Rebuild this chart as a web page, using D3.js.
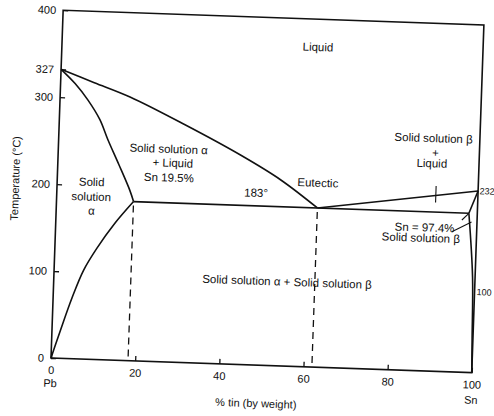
<!DOCTYPE html>
<html>
<head>
<meta charset="utf-8">
<script src="https://d3js.org/d3.v7.min.js"></script>
<style>
body { margin: 0; background: #fff; }
text { font-family: "Liberation Sans", Arial, sans-serif; font-size: 11px; fill: #111; }
text.region { font-size: 11.5px; }
text.side { font-size: 9px; }
</style>
</head>
<body>
<div id="chart"></div>
<script>

// phase boundaries of the Pb-Sn diagram, [% Sn, temperature °C]
var liquidusPb   = [[0,332],[8,318],[16.6,303],[30,273],[43.2,241],[53,214],[62,183]];
var solidusAlpha = [[0,332],[3.5,316],[6.6,298],[9.6,276],[11.7,253],[14.5,225],[17.3,196],[18.3,183]];
var solvusAlpha  = [[18.3,183],[14,157],[10,128],[7,102],[4.5,70],[2,32],[0.8,13],[0,0]];
var eutectic     = [[18.3,183],[98,183]];
var liquidusSn   = [[62,183],[100,209]];
var solidusBeta  = [[98,183],[100,209]];
var solvusBeta   = [[98,183],[99.4,110],[99.8,40],[100,0]];
var dashedAt     = [18.3, 62];

// ticks
var xTicks = [0, 20, 40, 60, 80, 100];
var yTicks = [0, 100, 200, 300, 332, 400];
var yTickLabels = ["0", "100", "200", "300", "327", "400"];

var width = 494, height = 416;
var W = 421, H = 348;

var svg = d3.select("#chart")
  .append("svg")
    .attr("width", width)
    .attr("height", height);

var x = d3.scaleLinear().domain([0, 100]).range([0, W]);
var y = d3.scaleLinear().domain([0, 400]).range([H, 0]);

// the scan is tilted by about 2 degrees
var g = svg.append("g")
  .attr("transform", "translate(51,358) rotate(2) translate(0," + (-H) + ")");

// frame
g.append("path")
  .attr("d", "M" + x(0) + "," + y(0) + "V" + y(400) + "H" + x(100) + "V" + y(0) + "Z")
  .attr("fill", "none")
  .attr("stroke", "#111")
  .attr("stroke-width", 1.6);

// axes (ticks pointing inside)
var xAxis = g.append("g")
  .attr("transform", "translate(0," + H + ")")
  .call(d3.axisBottom(x).tickValues(xTicks).tickSizeInner(-5).tickSizeOuter(0).tickPadding(8));
var yAxis = g.append("g")
  .call(d3.axisLeft(y).tickValues(yTicks).tickSizeInner(-5).tickSizeOuter(0).tickPadding(7)
    .tickFormat(function(d, i) { return yTickLabels[i]; }));
[xAxis, yAxis].forEach(function(a) {
  a.select(".domain").remove();
  a.selectAll("line").attr("stroke", "#111").attr("stroke-width", 1.3);
  a.selectAll("text").attr("fill", "#111").attr("font-family", null).attr("font-size", null);
});

// boundaries
var line = d3.line()
  .x(function(d) { return x(d[0]); })
  .y(function(d) { return y(d[1]); })
  .curve(d3.curveCatmullRom);

[liquidusPb, solidusAlpha, solvusAlpha, eutectic, liquidusSn, solidusBeta, solvusBeta].forEach(function(b) {
  g.append("path")
    .attr("d", line(b))
    .attr("fill", "none")
    .attr("stroke", "#111")
    .attr("stroke-width", 1.6);
});

g.selectAll(".dash")
  .data(dashedAt)
  .enter().append("line")
    .attr("x1", function(d) { return x(d); })
    .attr("x2", function(d) { return x(d); })
    .attr("y1", y(183) + 4)
    .attr("y2", y(0))
    .attr("stroke", "#111")
    .attr("stroke-width", 1.3)
    .attr("stroke-dasharray", "7,5");

// small pointers
var pointers = [[[90,194],[90,213]], [[96.4,175],[98,183]], [[94.1,161],[98.7,173]]];
pointers.forEach(function(p) {
  g.append("path").attr("d", d3.line().x(function(d){return x(d[0]);}).y(function(d){return y(d[1]);})(p))
    .attr("stroke", "#111").attr("stroke-width", 1.1).attr("fill", "none");
});

// region labels
var labels = [
  ["Liquid", 60.8, 368],
  ["Solid solution \u03b1", 26.2, 245],
  ["+ Liquid", 27.3, 229],
  ["Sn 19.5%", 26.5, 212],
  ["Solid", 8.2, 204],
  ["solution", 8.2, 187],
  ["\u03b1", 8.4, 171],
  ["183\u00b0", 47.3, 198],
  ["Eutectic", 61.9, 212],
  ["Solid solution \u03b2", 89, 268],
  ["+", 89.6, 251],
  ["Liquid", 88.8, 239],
  ["Sn = 97.4%", 87.6, 165],
  ["Solid solution \u03b2", 86.8, 153],
  ["Solid solution \u03b1 + Solid solution \u03b2", 55.4, 97]
];
g.selectAll(".lab")
  .data(labels)
  .enter().append("text")
    .attr("class", "region")
    .attr("x", function(d) { return x(d[1]); })
    .attr("y", function(d) { return y(d[2]); })
    .attr("dy", "0.35em")
    .attr("text-anchor", "middle")
    .text(function(d) { return d[0]; });

// right side labels
g.append("text").attr("class", "side").attr("x", x(100) + 1.5).attr("y", y(209)).attr("dy", "0.35em").text("232");
g.append("text").attr("class", "side").attr("x", x(100) + 2).attr("y", y(93)).attr("dy", "0.35em").text("100");

// element names and axis titles
g.append("text").attr("x", x(0)).attr("y", H + 29).attr("text-anchor", "middle").text("Pb");
g.append("text").attr("x", x(100)).attr("y", H + 31).attr("text-anchor", "middle").text("Sn");
g.append("text").attr("x", x(49)).attr("y", H + 42).attr("text-anchor", "middle").text("% tin (by weight)");
g.append("text")
  .attr("transform", "translate(-38," + y(205) + ") rotate(-90)")
  .attr("text-anchor", "middle")
  .text("Temperature (\u00b0C)");

</script>
</body>
</html>
